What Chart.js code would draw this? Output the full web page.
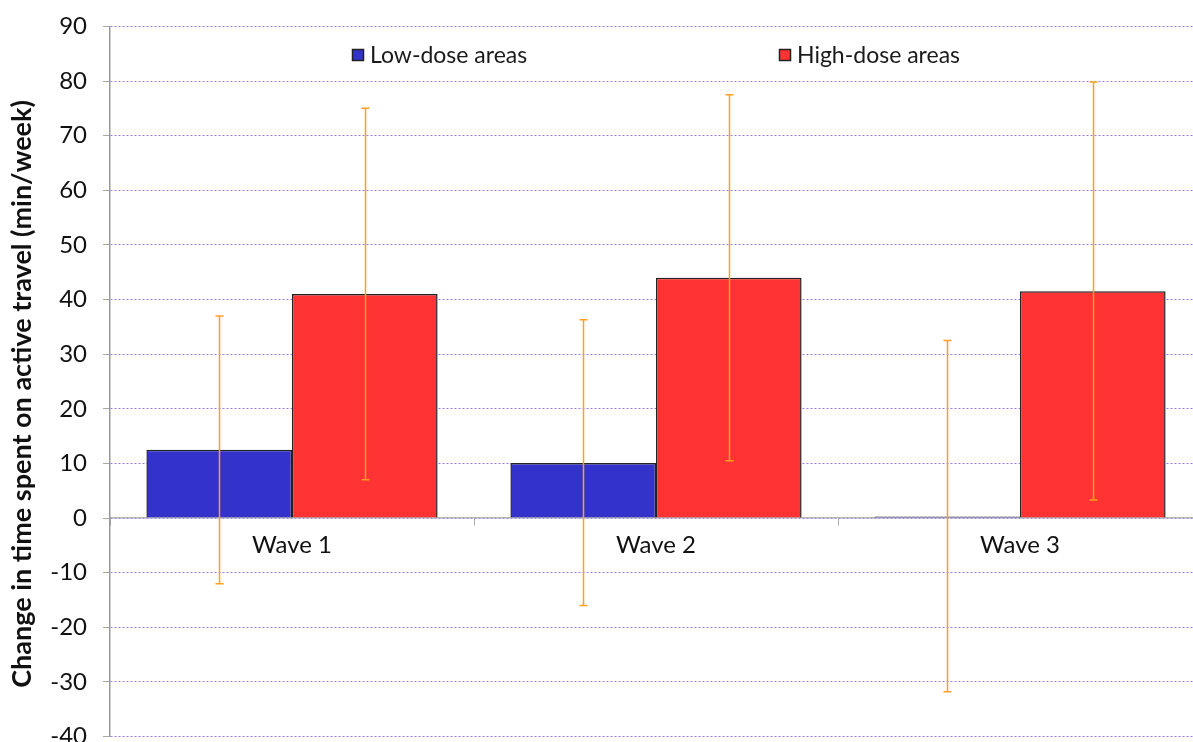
<!DOCTYPE html>
<html>
<head>
<meta charset="utf-8">
<script src="https://cdn.jsdelivr.net/npm/chart.js@4.4.1/dist/chart.umd.min.js"></script>
<style>
  html, body { margin: 0; padding: 0; background: #fff; overflow: hidden; }
  #wrap { position: relative; width: 1202px; height: 771px; margin-top: -4px; }
</style>
</head>
<body>
<div id="wrap"><canvas id="c"></canvas></div>
<script>
const categories = ['Wave 1', 'Wave 2', 'Wave 3'];
const seriesNames = ['Low-dose areas', 'High-dose areas'];
const lowDose = [12.5, 10.1, 0.3];
const highDose = [41, 44, 41.5];
const lowDoseErrLow = [-12, -16, -31.8];
const lowDoseErrHigh = [37, 36.3, 32.5];
const highDoseErrLow = [7, 10.5, 3.3];
const highDoseErrHigh = [75, 77.5, 79.8];
const yMin = -40, yMax = 90, yStep = 10;
const yTitle = 'Change in time spent on active travel (min/week)';

const FONT = 'Lato, "DejaVu Sans", sans-serif';

const errorBarPlugin = {
  id: 'errorBars',
  afterDatasetsDraw(chart) {
    const ctx = chart.ctx;
    const y = chart.scales.y;
    const errs = [[lowDoseErrLow, lowDoseErrHigh], [highDoseErrLow, highDoseErrHigh]];
    ctx.save();
    ctx.strokeStyle = '#ffa01e';
    ctx.lineWidth = 1.5;
    chart.data.datasets.forEach((ds, di) => {
      const meta = chart.getDatasetMeta(di);
      meta.data.forEach((bar, i) => {
        const x = Math.round(bar.x) + 0.5;
        const yl = y.getPixelForValue(errs[di][0][i]);
        const yh = y.getPixelForValue(errs[di][1][i]);
        ctx.beginPath();
        ctx.moveTo(x, yl); ctx.lineTo(x, yh);
        ctx.moveTo(x - 4, yl); ctx.lineTo(x + 4, yl);
        ctx.moveTo(x - 4, yh); ctx.lineTo(x + 4, yh);
        ctx.stroke();
      });
    });
    ctx.restore();
  }
};

const legendPlugin = {
  id: 'customLegend',
  afterDraw(chart) {
    const ctx = chart.ctx;
    const xs = [352, 779];
    const yc = 59;
    ctx.save();
    ctx.font = '23px ' + FONT;
    ctx.textBaseline = 'middle';
    chart.data.datasets.forEach((ds, i) => {
      ctx.fillStyle = ds.backgroundColor;
      ctx.fillRect(xs[i], yc - 6, 12, 12);
      ctx.strokeStyle = '#222';
      ctx.lineWidth = 1.5;
      ctx.strokeRect(xs[i] + 0.5, yc - 5.5, 11, 11);
      ctx.fillStyle = '#1a1a1a';
      ctx.fillText(ds.label, xs[i] + 18, yc + 1);
    });
    // y-axis title
    ctx.translate(22, 398);
    ctx.rotate(-Math.PI / 2);
    ctx.font = 'bold 27px ' + FONT;
    ctx.textAlign = 'center';
    ctx.textBaseline = 'middle';
    ctx.fillStyle = '#111';
    ctx.fillText(yTitle, 0, 0);
    ctx.restore();
  }
};

new Chart(document.getElementById('c'), {
  type: 'bar',
  data: {
    labels: categories,
    datasets: [
      { label: seriesNames[0], data: lowDose, backgroundColor: '#3333cc', borderColor: '#222', borderWidth: 1.5 },
      { label: seriesNames[1], data: highDose, backgroundColor: '#ff3333', borderColor: '#222', borderWidth: 1.5 }
    ]
  },
  options: {
    responsive: true,
    maintainAspectRatio: false,
    animation: false,
    layout: { padding: { top: 24, bottom: 16, left: 0, right: 0 } },
    plugins: { legend: { display: false }, tooltip: { enabled: false } },
    datasets: { bar: { categoryPercentage: 0.8, barPercentage: 1.0 } },
    scales: {
      x: {
        position: { y: 0 },
        grid: { display: true, offset: true, drawOnChartArea: false, drawTicks: true, tickLength: 7, tickColor: '#aaa', color: '#aaa' },
        border: { display: true, color: '#b4b4b4', width: 1.5 },
        ticks: { color: '#111', font: { family: FONT, size: 24 }, padding: 6 }
      },
      y: {
        min: yMin, max: yMax,
        afterFit(scale) { scale.width = 110; },
        ticks: { stepSize: yStep, color: '#111', font: { family: FONT, size: 24 }, padding: 16 },
        grid: { color: '#9a78ff', lineWidth: 1, tickLength: 7, tickColor: '#aaa', tickBorderDash: [0, 0], drawTicks: true },
        border: { display: true, color: '#999', width: 1.5, dash: [2, 2] },
        title: { display: false }
      }
    }
  },
  plugins: [errorBarPlugin, legendPlugin]
});
</script>
</body>
</html>
